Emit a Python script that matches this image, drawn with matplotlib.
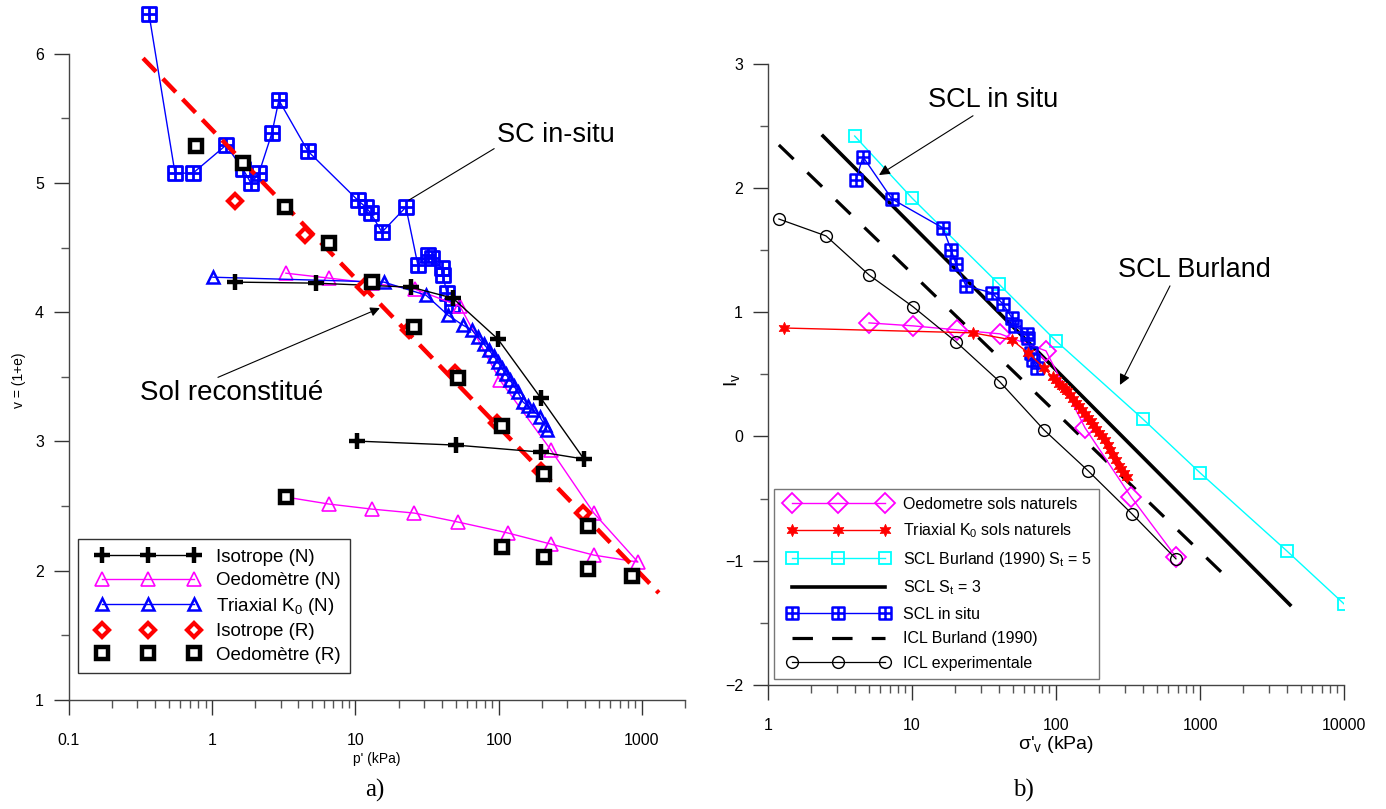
import numpy as np
import matplotlib
matplotlib.use("Agg")
import matplotlib.pyplot as plt
from matplotlib.path import Path
from matplotlib.lines import Line2D
from matplotlib.legend_handler import HandlerLine2D

plt.rcParams['font.family'] = ['Liberation Sans', 'DejaVu Sans']
plt.rcParams['mathtext.fontset'] = 'custom'
plt.rcParams['mathtext.rm'] = 'Liberation Sans'
plt.rcParams['mathtext.it'] = 'Liberation Sans:italic'

# ---------------- Panel a) data ----------------
sc_insitu_p = [0.362, 0.55, 0.734, 1.247, 1.64, 1.865, 2.12, 2.61, 2.92, 4.66, 10.4, 11.8,
               12.8, 15.3, 22.5, 27.3, 32.1, 34.2, 40.2, 40.8, 43.5, 47.2]
sc_insitu_v = [6.305, 5.076, 5.076, 5.292, 5.107, 4.998, 5.076, 5.385, 5.640, 5.246, 4.866, 4.813,
               4.766, 4.619, 4.813, 4.364, 4.441, 4.418, 4.341, 4.287, 4.148, 4.055]

ncl_p = [0.329, 1314]
ncl_v = [5.965, 1.828]

iso_r_p = [1.44, 4.44, 11.5, 23.6, 49.5, 97.2, 197, 387]
iso_r_v = [4.859, 4.596, 4.194, 3.862, 3.529, 3.142, 2.771, 2.446]

oed_r_p = [0.77, 1.64, 3.22, 6.53, 13.0, 25.6, 51.9, 105, 207, 420, 3.27, 105, 207, 420, 852]
oed_r_v = [5.285, 5.153, 4.813, 4.534, 4.233, 3.885, 3.490, 3.119, 2.748, 2.346, 2.570, 2.183,
           2.106, 2.013, 1.959]

iso_n_p = [1.44, 5.30, 24.4, 47.9, 98.8, 197, 394, 197, 50.3, 10.2]
iso_n_v = [4.233, 4.225, 4.194, 4.109, 3.792, 3.336, 2.864, 2.918, 2.972, 3.003]

oed_n_p = [3.27, 6.53, 13.0, 26.0, 53.6, 102, 232, 462, 938, 462, 232, 116, 51.9, 25.8, 13.0, 6.53, 3.27]
oed_n_v = [4.302, 4.264, 4.225, 4.179, 4.047, 3.475, 2.933, 2.446, 2.067, 2.121, 2.206, 2.292,
           2.377, 2.446, 2.477, 2.516, 2.570]

tri_n_p = [1.01, 15.8, 31.1, 44.2, 56.3, 65.1, 71.6, 78.9, 85.5, 92.6, 98.8, 105, 112, 120,
           128, 136, 148, 160, 173, 194, 210, 217]
tri_n_v = [4.271, 4.233, 4.132, 3.978, 3.900, 3.862, 3.807, 3.753, 3.707, 3.660, 3.614, 3.568,
           3.521, 3.475, 3.428, 3.382, 3.305, 3.274, 3.243, 3.189, 3.127, 3.088]

xticks_a = [0.1, 1, 10, 100, 1000]
xticklabels_a = ['0.1', '1', '10', '100', '1000']
yticks_a = [1, 2, 3, 4, 5, 6]

# ---------------- Panel b) data ----------------
oed_nat_s = [5.03, 10.2, 20.5, 40.8, 85.2, 159, 332, 681]
oed_nat_iv = [0.914, 0.890, 0.858, 0.826, 0.689, 0.070, -0.486, -0.969]

tri_nat_s = [1.29, 26.5, 49.5, 63.9, 82.5, 95, 100, 105, 110, 115, 120, 126, 132, 138, 145, 152,
             159, 166, 174, 182, 190, 199, 208, 218, 228, 238, 249, 260, 272, 284, 297, 310]
tri_nat_iv = [0.873, 0.834, 0.777, 0.673, 0.552, 0.476, 0.456, 0.425, 0.405, 0.385, 0.364, 0.334,
              0.304, 0.273, 0.243, 0.212, 0.182, 0.152, 0.121, 0.091, 0.060, 0.030, 0.000,
              -0.031, -0.071, -0.112, -0.153, -0.193, -0.234, -0.264, -0.294, -0.325]

scl_burland_s = [4, 10, 40, 100, 400, 1000, 4000, 10000]
scl_burland_iv = [2.418, 1.919, 1.228, 0.769, 0.142, -0.292, -0.920, -1.347]

scl_st3_s = [2.41, 4217]
scl_st3_iv = [2.418, -1.355]

scl_insitu_s = [4.08, 4.57, 7.26, 16.4, 18.7, 20.2, 23.7, 35.9, 42.8, 49.5, 51.9, 62.9, 63.9,
                67.0, 69.2, 73.8]
scl_insitu_iv = [2.064, 2.250, 1.911, 1.678, 1.502, 1.389, 1.212, 1.156, 1.067, 0.954, 0.891,
                 0.826, 0.793, 0.673, 0.617, 0.552]

icl_burland_s = [1.19, 1422]
icl_burland_iv = [2.346, -1.097]

icl_exp_s = [1.19, 2.53, 5.03, 10.2, 20.2, 40.8, 82.5, 167, 337, 681]
icl_exp_iv = [1.750, 1.614, 1.300, 1.043, 0.762, 0.439, 0.053, -0.276, -0.623, -0.985]

xticks_b = [1, 10, 100, 1000, 10000]
xticklabels_b = ['1', '10', '100', '1000', '10000']
yticks_b = [-2, -1, 0, 1, 2, 3]

# boxed-plus marker
_verts = [(-1, -1), (1, -1), (1, 1), (-1, 1), (-1, -1), (0, -1), (0, 1), (-1, 0), (1, 0)]
_codes = [Path.MOVETO, Path.LINETO, Path.LINETO, Path.LINETO, Path.CLOSEPOLY,
          Path.MOVETO, Path.LINETO, Path.MOVETO, Path.LINETO]
boxplus = Path(_verts, _codes)

W, H = 1386, 809
fig = plt.figure(figsize=(W / 100, H / 100), dpi=100)

def frac(x0, y0, x1, y1):
    return [x0 / W, 1 - y1 / H, (x1 - x0) / W, (y1 - y0) / H]

axa = fig.add_axes(frac(69, 2, 685, 700))
axb = fig.add_axes(frac(768, 63.7, 1344, 685))

BLUE = '#0000ff'
MAG = '#ff00ff'
RED = '#ff0000'
CYAN = '#00ffff'
ANN_FS = 19.5

# ---- panel a
axa.plot(sc_insitu_p, sc_insitu_v, color=BLUE, lw=1, marker=boxplus, ms=10, mew=2,
         mfc='none', mec=BLUE, zorder=3)
axa.plot(ncl_p, ncl_v, color=RED, lw=3.2, dashes=(4.2, 2.2), zorder=4)
axa.plot(iso_n_p, iso_n_v, color='black', lw=1, marker='+', ms=11, mew=3.2, zorder=5,
         label='Isotrope (N)')
axa.plot(oed_n_p, oed_n_v, color=MAG, lw=1, marker='^', ms=10, mew=1.2, mfc='none', mec=MAG,
         zorder=3, label='Oedomètre (N)')
axa.plot(tri_n_p, tri_n_v, color=BLUE, lw=1, marker='^', ms=8, mew=1.8, mfc='none', mec=BLUE,
         zorder=3, label=r'Triaxial K$_{\rm 0}$ (N)')
axa.plot(iso_r_p, iso_r_v, ls='none', marker='D', ms=7.5, mew=3, mfc='white', mec=RED,
         zorder=6, label='Isotrope (R)')
axa.plot(oed_r_p, oed_r_v, ls='none', marker='s', ms=8.5, mew=3.2, mfc='white', mec='black',
         zorder=6, label='Oedomètre (R)')

axa.set_xscale('log')
axa.set_xlim(0.1, 2000)
axa.set_ylim(1, 6.4)
axa.set_xticks(xticks_a)
axa.set_xticklabels(xticklabels_a)
axa.set_yticks(yticks_a)
axa.set_yticks([1.5, 2.5, 3.5, 4.5, 5.5], minor=True)
axa.spines['left'].set_bounds(1, 6)
axa.set_xlabel("p' (kPa)", fontsize=10, labelpad=3.5)
axa.set_ylabel('v = (1+e)', fontsize=10)
axa.yaxis.set_label_coords(-0.0698, 0.458)

axa.annotate('SC in-situ', xy=(23.6, 4.867), xytext=(97.3, 5.37), fontsize=ANN_FS,
             ha='left', va='center',
             arrowprops=dict(arrowstyle='-', color='black', lw=0.8, shrinkA=0, shrinkB=0,
                             relpos=(0.02, 0.1)))
axa.annotate('Sol reconstitué', xy=(14.8, 4.032), xytext=(0.313, 3.374), fontsize=20,
             ha='left', va='center',
             arrowprops=dict(arrowstyle='-|>', color='black', lw=0.8, shrinkA=0, shrinkB=0,
                             mutation_scale=14, relpos=(0.39, 1.0)))

leg_a = axa.legend(loc='lower left', bbox_to_anchor=(0.0146, 0.0387), borderaxespad=0,
                   numpoints=3, handlelength=6.5, fontsize=13.5, labelspacing=0.34,
                   frameon=True, fancybox=False, edgecolor='black', borderpad=0.5,
                   handletextpad=0.35,
                   handler_map={Line2D: HandlerLine2D(marker_pad=0.8)})
leg_a.get_frame().set_linewidth(1.0)

# ---- panel b
axb.plot(oed_nat_s, oed_nat_iv, color=MAG, lw=1, marker='D', ms=10, mew=1.3, mfc='none', mec=MAG,
         zorder=4, label='Oedometre sols naturels')
axb.plot(tri_nat_s, tri_nat_iv, color=RED, lw=1, marker=(6, 1, 0), ms=9, mew=0.5, mfc=RED,
         mec=RED, zorder=5, label=r'Triaxial K$_{\rm 0}$ sols naturels')
axb.plot(scl_burland_s, scl_burland_iv, color=CYAN, lw=1, marker='s', ms=9, mew=1.3, mfc='none',
         mec=CYAN, zorder=3, label=r'SCL Burland (1990) S$_{\rm t}$ = 5')
axb.plot(scl_st3_s, scl_st3_iv, color='black', lw=2.6, zorder=3, label=r'SCL S$_{\rm t}$ = 3')
axb.plot(scl_insitu_s, scl_insitu_iv, color=BLUE, lw=1, marker=boxplus, ms=8.5, mew=1.8,
         mfc='none', mec=BLUE, zorder=4, label='SCL in situ')
axb.plot(icl_burland_s, icl_burland_iv, color='black', lw=2.3, dashes=(6.4, 6.0), zorder=3,
         label='ICL Burland (1990)')
axb.plot(icl_exp_s, icl_exp_iv, color='black', lw=0.9, marker='o', ms=8.5, mew=1.0, mfc='none',
         mec='black', zorder=4, label='ICL experimentale')

axb.set_xscale('log')
axb.set_xlim(1, 10000)
axb.set_ylim(-2, 3)
axb.set_xticks(xticks_b)
axb.set_xticklabels(xticklabels_b)
axb.set_yticks(yticks_b)
axb.set_yticks([-1.5, -0.5, 0.5, 1.5, 2.5], minor=True)
axb.set_xlabel(r"σ'$_{\rm v}$ (kPa)", fontsize=14, labelpad=1)
axb.set_ylabel(r'I$_{\rm v}$', fontsize=14)
axb.yaxis.set_label_coords(-0.045, 0.491)

axb.annotate('SCL in situ', xy=(5.9, 2.104), xytext=(12.9, 2.708), fontsize=ANN_FS,
             ha='left', va='center',
             arrowprops=dict(arrowstyle='-|>', color='black', lw=0.8, shrinkA=0, shrinkB=0,
                             mutation_scale=16, relpos=(0.38, 0.0)))
axb.annotate('SCL Burland', xy=(278, 0.415), xytext=(269, 1.339), fontsize=ANN_FS,
             ha='left', va='center',
             arrowprops=dict(arrowstyle='-|>', color='black', lw=0.8, shrinkA=0, shrinkB=0,
                             mutation_scale=16, relpos=(0.35, 0.0)))

leg_b = axb.legend(loc='lower left', bbox_to_anchor=(0.0104, 0.0097), borderaxespad=0,
                   numpoints=3, handlelength=7.06, fontsize=11.5, labelspacing=0.6,
                   frameon=True, fancybox=False, edgecolor='#555555', borderpad=0.5,
                   handletextpad=0.5,
                   handler_map={Line2D: HandlerLine2D(marker_pad=0.63)})
leg_b.get_frame().set_linewidth(1.0)

for ax in (axa, axb):
    ax.spines['top'].set_visible(False)
    ax.spines['right'].set_visible(False)
    for s in ('left', 'bottom'):
        ax.spines[s].set_color('#444444')
        ax.spines[s].set_linewidth(1.0)
    ax.tick_params(which='major', direction='out', length=11, width=1, labelsize=11.5,
                   color='#333333', pad=7)
    ax.tick_params(which='minor', direction='out', length=6, width=1, color='#555555')
    ax.tick_params(axis='x', which='major', pad=12.5)

fig.text(375 / W, 1 - 790 / H, 'a)', fontsize=18, family='Liberation Serif', ha='center',
         va='center')
fig.text(1023 / W, 1 - 790 / H, 'b)', fontsize=18, family='Liberation Serif', ha='center',
         va='center')

fig.savefig('out.png', dpi=100)
